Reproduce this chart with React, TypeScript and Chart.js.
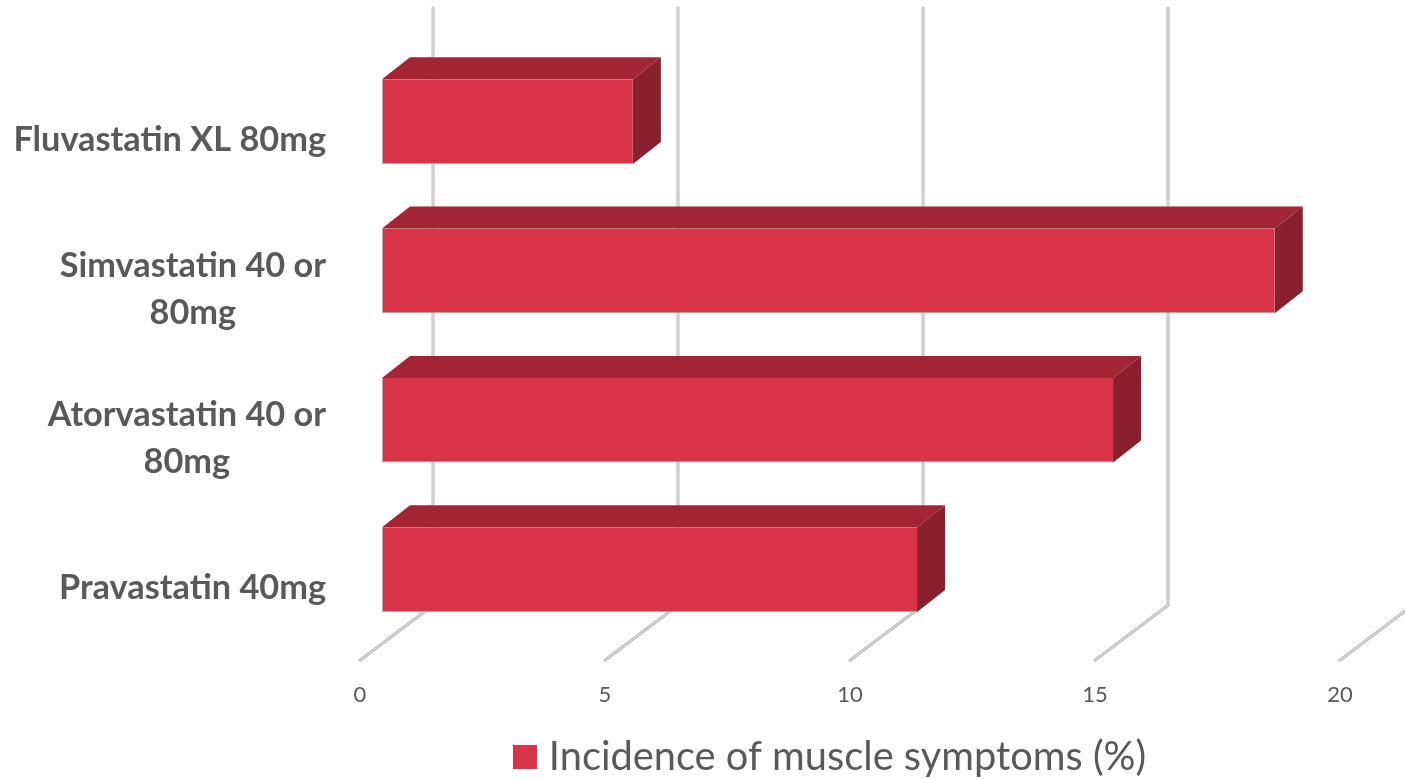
import React, { useEffect, useRef } from "react";
import { Chart, registerables } from "chart.js";

Chart.register(...registerables);

const categories: string[][] = [
  ["Fluvastatin XL 80mg"],
  ["Simvastatin 40 or", "80mg"],
  ["Atorvastatin 40 or", "80mg"],
  ["Pravastatin 40mg"],
];
const incidence = [5.12, 18.22, 14.92, 10.92];
const seriesName = "Incidence of muscle symptoms (%)";
const xTicks = [0, 5, 10, 15, 20];

const FRONT = "#D83346";
const TOP = "#A12535";
const SIDE = "#8A1F2D";
const TEXT = "#595959";
const FONT = "Lato";

// Oblique projection: each unit of depth moves a point right and up.
const WALL = { dx: 73, dy: -55 };
const BAR_NEAR = { dx: 22, dy: -16 };
const BAR_DEPTH = { dx: 28, dy: -22 };

const gridLine = (ctx: CanvasRenderingContext2D, pts: number[][]) => {
  const stroke = (color: string, width: number) => {
    ctx.beginPath();
    pts.forEach(([x, y], i) => (i ? ctx.lineTo(x, y) : ctx.moveTo(x, y)));
    ctx.strokeStyle = color;
    ctx.lineWidth = width;
    ctx.lineCap = "round";
    ctx.lineJoin = "round";
    ctx.stroke();
  };
  stroke("#b8b8b8", 3);
  stroke("#e8e8e8", 1);
};

const box3d = {
  id: "box3d",
  beforeDatasetsDraw(chart: any) {
    const { ctx, chartArea, scales } = chart;
    ctx.save();
    // Walls and floor of the 3D frame
    xTicks.forEach((v) => {
      const x = scales.x.getPixelForValue(v);
      gridLine(ctx, [
        [x, chartArea.bottom],
        [x + WALL.dx, chartArea.bottom + WALL.dy],
        [x + WALL.dx, chartArea.top + WALL.dy],
      ]);
    });
    // Everything in the dataset layer sits at the bars' depth
    ctx.translate(BAR_NEAR.dx, BAR_NEAR.dy);
    chart.getDatasetMeta(0).data.forEach((bar: any) => {
      const { x, y, base, height } = bar.getProps(["x", "y", "base", "height"], true);
      const t = y - height / 2;
      const b = y + height / 2;
      ctx.beginPath();
      ctx.moveTo(base, t);
      ctx.lineTo(base + BAR_DEPTH.dx, t + BAR_DEPTH.dy);
      ctx.lineTo(x + BAR_DEPTH.dx, t + BAR_DEPTH.dy);
      ctx.lineTo(x, t);
      ctx.closePath();
      ctx.fillStyle = TOP;
      ctx.fill();
      ctx.beginPath();
      ctx.moveTo(x, t);
      ctx.lineTo(x + BAR_DEPTH.dx, t + BAR_DEPTH.dy);
      ctx.lineTo(x + BAR_DEPTH.dx, b + BAR_DEPTH.dy);
      ctx.lineTo(x, b);
      ctx.closePath();
      ctx.fillStyle = SIDE;
      ctx.fill();
    });
  },
  afterDatasetsDraw(chart: any) {
    chart.ctx.restore();
  },
  afterDraw(chart: any) {
    // Category labels: block is right-aligned, its lines are centred within it
    const { ctx, scales } = chart;
    ctx.save();
    ctx.font = `bold 34.3px ${FONT}`;
    ctx.fillStyle = TEXT;
    ctx.textBaseline = "middle";
    ctx.textAlign = "center";
    const lineHeight = 47;
    categories.forEach((lines, i) => {
      const cy = scales.y.getPixelForTick(i) + 2.5;
      const w = Math.max(...lines.map((l) => ctx.measureText(l).width));
      lines.forEach((line, j) => {
        ctx.fillText(line, 326 - w / 2, cy + (j - (lines.length - 1) / 2) * lineHeight);
      });
    });
    ctx.restore();
  },
};

export default function App() {
  const ref = useRef<HTMLCanvasElement>(null);
  useEffect(() => {
    const chart = new Chart(ref.current!, {
      type: "bar",
      data: {
        labels: categories.map((c) => c.join(" ")),
        datasets: [
          {
            label: seriesName,
            data: incidence,
            backgroundColor: FRONT,
            borderColor: "rgba(170,160,160,0.9)",
            borderWidth: { left: 1, bottom: 1 },
            borderSkipped: false,
            barPercentage: 0.567,
            categoryPercentage: 1,
            clip: false,
          } as any,
        ],
      },
      plugins: [box3d],
      options: {
        indexAxis: "y",
        responsive: false,
        animation: false,
        layout: { padding: { left: 327, right: 65, top: 63, bottom: -8 } },
        scales: {
          x: {
            min: 0,
            max: 20,
            afterBuildTicks: (axis: any) => {
              axis.ticks = xTicks.map((value) => ({ value }));
            },
            afterFit: (axis: any) => {
              axis.height = 75;
            },
            grid: { display: false },
            border: { display: false },
            ticks: {
              maxRotation: 0,
              padding: 14,
              color: TEXT,
              font: { family: FONT, size: 22 },
            },
          },
          y: {
            afterFit: (axis: any) => {
              axis.width = 33;
            },
            grid: { display: false },
            border: { display: false },
            ticks: { display: false },
          },
        },
        plugins: {
          tooltip: { enabled: false },
          legend: {
            position: "bottom",
            labels: {
              color: TEXT,
              font: { family: FONT, size: 39.8, lineHeight: 1 },
              padding: 2,
              boxWidth: 8,
              boxHeight: 8,
              // A small box with a thick stroke keeps the square close to its text
              generateLabels: () => [
                {
                  text: seriesName,
                  fillStyle: FRONT,
                  strokeStyle: FRONT,
                  lineWidth: 16,
                  fontColor: TEXT,
                  datasetIndex: 0,
                },
              ],
            },
          },
        },
      },
    });
    return () => chart.destroy();
  }, []);
  return (
    <div style={{ position: "absolute", left: 0, top: 0, width: 1405, height: 779, background: "#fff" }}>
      <canvas ref={ref} width={1405} height={779} style={{ display: "block" }} />
    </div>
  );
}
